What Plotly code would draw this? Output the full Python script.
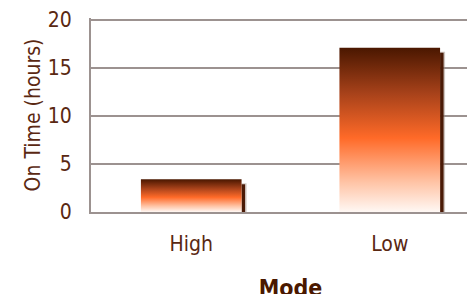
import plotly.graph_objects as go

categories = ["High", "Low"]
on_time_hours = [3.4, 17.1]
y_tick_values = [0, 5, 10, 15, 20]

# page has an 8px body margin; compensate so the plot area sits where the reference has it
W, H = 482, 294
ML, MR, MT, MB = 83, 0, 8, 90
x_range = [-0.505, 1.505]
y_range = [0, 20.2]
bar_w = 0.507

px_x = (x_range[1] - x_range[0]) / (W - ML - MR)
px_y = (y_range[1] - y_range[0]) / (H - MT - MB)

FONT = "DejaVu Sans Condensed, DejaVu Sans, Liberation Sans, sans-serif"
BROWN = "#5a2812"
GRID = "#9c9290"

grad = [[0.0, "#fff8f4"], [0.18, "#ffc4a6"], [0.45, "#ff6a28"],
        [0.72, "#a8421a"], [1.0, "#4a1700"]]

fig = go.Figure()

for i, (cat, v) in enumerate(zip(categories, on_time_hours)):
    xl, xr = i - bar_w / 2, i + bar_w / 2
    top_s = v - 5 * px_y
    # soft fringe of shadow
    fig.add_trace(go.Scatter(
        x=[xr, xr + 5 * px_x, xr + 5 * px_x, xr, xr],
        y=[-1 * px_y, -1 * px_y, top_s + px_y, top_s + px_y, -1 * px_y],
        fill="toself", fillcolor="rgba(150,130,120,0.45)", mode="none",
        hoverinfo="skip", showlegend=False))
    # dark shadow core
    fig.add_trace(go.Scatter(
        x=[xr, xr + 3.5 * px_x, xr + 3.5 * px_x, xr, xr],
        y=[-1 * px_y, -1 * px_y, top_s, top_s, -1 * px_y],
        fill="toself", fillcolor="#4a1a06", mode="none",
        hoverinfo="skip", showlegend=False))
    # gradient bar
    fig.add_trace(go.Scatter(
        x=[xl, xr, xr, xl, xl], y=[0, 0, v, v, 0],
        fill="toself", mode="none",
        fillgradient=dict(type="vertical", colorscale=grad),
        name=cat, showlegend=False,
        hovertemplate=f"{cat}: %{{y}}<extra></extra>"))

fig.update_layout(
    width=W, height=H,
    margin=dict(l=ML, r=MR, t=MT, b=MB, pad=0),
    paper_bgcolor="white", plot_bgcolor="white",
    font=dict(family=FONT, size=21, color=BROWN),
    showlegend=False,
)
fig.update_xaxes(
    range=x_range, tickmode="array", tickvals=list(range(len(categories))),
    ticktext=categories, showgrid=False, zeroline=False,
    showline=True, linecolor=GRID, linewidth=2,
    ticks="outside", ticklen=12, tickcolor="rgba(0,0,0,0)",
    tickfont=dict(family=FONT, size=21, color=BROWN),
    title=dict(text="<b>Mode</b>", font=dict(family=FONT, size=23, color="#4a1800"), standoff=25),
    fixedrange=True,
)
fig.update_yaxes(
    range=y_range, tickmode="array", tickvals=y_tick_values,
    showgrid=True, gridcolor=GRID, gridwidth=2, zeroline=False,
    showline=True, linecolor=GRID, linewidth=2,
    ticks="outside", ticklen=13, tickcolor="rgba(0,0,0,0)",
    ticklabeloverflow="allow",
    tickfont=dict(family=FONT, size=21, color=BROWN),
    title=dict(text="On Time (hours)", font=dict(family=FONT, size=21, color=BROWN), standoff=1),
    fixedrange=True,
)

fig.write_html("out.html")
